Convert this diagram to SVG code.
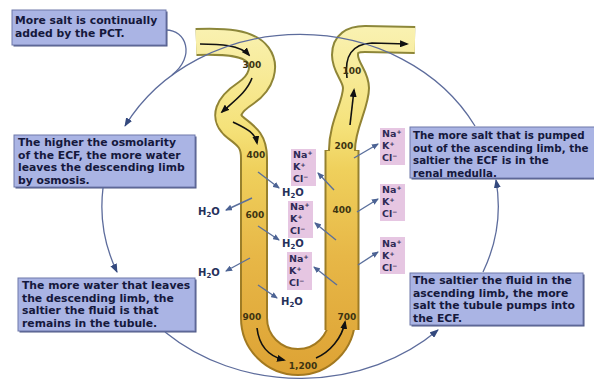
<svg xmlns="http://www.w3.org/2000/svg" width="594" height="380" viewBox="0 0 594 380">
  <defs>
    <linearGradient id="tubeFill" gradientUnits="userSpaceOnUse" x1="0" y1="30" x2="0" y2="378">
      <stop offset="0" stop-color="#f9f1b0"/>
      <stop offset="0.28" stop-color="#f5e27a"/>
      <stop offset="0.4" stop-color="#efd05c"/>
      <stop offset="0.65" stop-color="#e7b747"/>
      <stop offset="1" stop-color="#dda234"/>
    </linearGradient>
    <linearGradient id="tubeWall" gradientUnits="userSpaceOnUse" x1="0" y1="30" x2="0" y2="378">
      <stop offset="0" stop-color="#8c873a"/>
      <stop offset="1" stop-color="#a4781e"/>
    </linearGradient>
    <marker id="cycleHead" markerUnits="userSpaceOnUse" markerWidth="9" markerHeight="7" refX="8" refY="3.5" orient="auto">
      <path d="M0,0 L9,3.5 L0,7 z" fill="#34497e"/>
    </marker>
    <marker id="flowHead" markerUnits="userSpaceOnUse" markerWidth="9" markerHeight="7" refX="7" refY="3.5" orient="auto">
      <path d="M0,0 L9,3.5 L0,7 z" fill="#111"/>
    </marker>
    <marker id="smallHead" markerUnits="userSpaceOnUse" markerWidth="7" markerHeight="6" refX="6" refY="3" orient="auto">
      <path d="M0,0 L7,3 L0,6 z" fill="#4c6394"/>
    </marker>
    <style>
      .box { fill: #aab4e4; stroke: #6e78aa; stroke-width: 1; }
      .shadow { fill: #4c5684; }
      .note { font-family: "DejaVu Sans", "Liberation Sans", sans-serif; font-weight: bold; font-size: 10.8px; fill: #15183c; }
      .edge { font-size: 10.3px; }
      .num { font-family: "DejaVu Sans", "Liberation Sans", sans-serif; font-weight: bold; font-size: 9px; fill: #3d3412; text-anchor: middle; }
      .ionbg { fill: #e6c6e2; }
      .ion { font-family: "DejaVu Sans", "Liberation Sans", sans-serif; font-weight: bold; font-size: 9.5px; fill: #2e2a55; }
      .water { font-family: "DejaVu Sans", "Liberation Sans", sans-serif; font-weight: bold; font-size: 10px; fill: #26305a; }
      .cycle { fill: none; stroke: #5d6c9c; stroke-width: 1.3; }
      .flow { fill: none; stroke: #111; stroke-width: 1.6; }
      .leak { fill: none; stroke: #5a6f9c; stroke-width: 1.4; }
      .wall { fill: none; stroke: url(#tubeWall); stroke-linejoin: round; }
      .lumen { fill: none; stroke: url(#tubeFill); stroke-linejoin: round; }
    </style>
  </defs>

  <rect width="594" height="380" fill="#ffffff"/>

  <!-- Loop of Henle: descending limb, hairpin and ascending limb -->
  <g id="tubule">
    <path class="wall" stroke-width="28" d="M196,42 C225,41 248,42 258,55 C266,66 262,82 246,93 C228,105 222,117 236,128 C248,137 254,142 254,158 L254,318 A44,44 0 0 0 342,318 L342,150 C342,125 356,105 356,88 C356,76 345,68 345,55 C345,44 352,39 365,39 L415,40"/>
    <path class="wall" stroke-width="35" d="M342,330 L342,150"/>
    <path class="lumen" stroke-width="24" d="M196,42 C225,41 248,42 258,55 C266,66 262,82 246,93 C228,105 222,117 236,128 C248,137 254,142 254,158 L254,318 A44,44 0 0 0 342,318 L342,150 C342,125 356,105 356,88 C356,76 345,68 345,55 C345,44 352,39 365,39 L415,40"/>
    <path class="lumen" stroke-width="31" d="M342,330 L342,151"/>
    <!-- flow inside the tubule -->
    <path class="flow" marker-end="url(#flowHead)" d="M200,44 C220,44 240,45 249,55"/>
    <path class="flow" marker-end="url(#flowHead)" d="M252,78 C247,92 234,101 222,112"/>
    <path class="flow" marker-end="url(#flowHead)" d="M233,122 C245,128 255,132 257,143"/>
    <path class="flow" marker-end="url(#flowHead)" d="M257,328 C259,346 268,356 284,360"/>
    <path class="flow" marker-end="url(#flowHead)" d="M316,358 C330,352 342,338 345,322"/>
    <path class="flow" marker-end="url(#flowHead)" d="M350,125 L354,90"/>
    <path class="flow" marker-end="url(#flowHead)" d="M347,78 C344,56 352,44 372,43 L407,44"/>
  </g>

  <!-- Osmolarity values along the loop -->
  <g id="osmolarity">
    <text class="num" x="252" y="68">300</text>
    <text class="num" x="352" y="74">100</text>
    <text class="num" x="256" y="158">400</text>
    <text class="num" x="344" y="149">200</text>
    <text class="num" x="255" y="218">600</text>
    <text class="num" x="342" y="213">400</text>
    <text class="num" x="252" y="320">900</text>
    <text class="num" x="347" y="320">700</text>
    <text class="num" x="303" y="369">1,200</text>
  </g>

  <!-- Water leaving the descending limb -->
  <g id="water">
    <text class="water" x="282" y="196">H<tspan font-size="7" dy="2">2</tspan><tspan dy="-2">O</tspan></text>
    <text class="water" x="198" y="215">H<tspan font-size="7" dy="2">2</tspan><tspan dy="-2">O</tspan></text>
    <text class="water" x="282" y="247">H<tspan font-size="7" dy="2">2</tspan><tspan dy="-2">O</tspan></text>
    <text class="water" x="198" y="276">H<tspan font-size="7" dy="2">2</tspan><tspan dy="-2">O</tspan></text>
    <text class="water" x="281" y="305">H<tspan font-size="7" dy="2">2</tspan><tspan dy="-2">O</tspan></text>
  </g>

  <!-- Ions pumped out of the ascending limb -->
  <g id="ions-center-1">
    <rect class="ionbg" x="291" y="149" width="25" height="37"/>
    <text class="ion" x="293" y="158">Na<tspan font-size="6" dy="-3">+</tspan></text>
    <text class="ion" x="293" y="170">K<tspan font-size="6" dy="-3">+</tspan></text>
    <text class="ion" x="293" y="182">Cl<tspan font-size="6" dy="-3">−</tspan></text>
  </g>
  <g id="ions-center-2">
    <rect class="ionbg" x="288" y="201" width="25" height="37"/>
    <text class="ion" x="290" y="210">Na<tspan font-size="6" dy="-3">+</tspan></text>
    <text class="ion" x="290" y="222">K<tspan font-size="6" dy="-3">+</tspan></text>
    <text class="ion" x="290" y="234">Cl<tspan font-size="6" dy="-3">−</tspan></text>
  </g>
  <g id="ions-center-3">
    <rect class="ionbg" x="287" y="252" width="25" height="38"/>
    <text class="ion" x="289" y="262">Na<tspan font-size="6" dy="-3">+</tspan></text>
    <text class="ion" x="289" y="274">K<tspan font-size="6" dy="-3">+</tspan></text>
    <text class="ion" x="289" y="286">Cl<tspan font-size="6" dy="-3">−</tspan></text>
  </g>
  <g id="ions-right-1">
    <rect class="ionbg" x="380" y="128" width="25" height="37"/>
    <text class="ion" x="382" y="137">Na<tspan font-size="6" dy="-3">+</tspan></text>
    <text class="ion" x="382" y="149">K<tspan font-size="6" dy="-3">+</tspan></text>
    <text class="ion" x="382" y="161">Cl<tspan font-size="6" dy="-3">−</tspan></text>
  </g>
  <g id="ions-right-2">
    <rect class="ionbg" x="380" y="184" width="25" height="37"/>
    <text class="ion" x="382" y="193">Na<tspan font-size="6" dy="-3">+</tspan></text>
    <text class="ion" x="382" y="205">K<tspan font-size="6" dy="-3">+</tspan></text>
    <text class="ion" x="382" y="217">Cl<tspan font-size="6" dy="-3">−</tspan></text>
  </g>
  <g id="ions-right-3">
    <rect class="ionbg" x="380" y="237" width="25" height="37"/>
    <text class="ion" x="382" y="247">Na<tspan font-size="6" dy="-3">+</tspan></text>
    <text class="ion" x="382" y="259">K<tspan font-size="6" dy="-3">+</tspan></text>
    <text class="ion" x="382" y="271">Cl<tspan font-size="6" dy="-3">−</tspan></text>
  </g>

  <!-- Explanatory notes -->
  <g id="note-pct">
    <rect class="shadow" x="13.5" y="11.5" width="154" height="35"/>
    <rect class="box" x="12" y="10" width="154" height="35"/>
    <text class="note" x="15" y="24">More salt is continually</text>
    <text class="note" x="15" y="37">added by the PCT.</text>
  </g>
  <g id="note-osmolarity">
    <rect class="shadow" x="15.5" y="136.5" width="181" height="52"/>
    <rect class="box" x="14" y="135" width="181" height="52"/>
    <text class="note" x="18" y="146">The higher the osmolarity</text>
    <text class="note" x="18" y="158.5">of the ECF, the more water</text>
    <text class="note" x="18" y="171">leaves the descending limb</text>
    <text class="note" x="18" y="183.5">by osmosis.</text>
  </g>
  <g id="note-water">
    <rect class="shadow" x="19.5" y="279.5" width="177" height="53"/>
    <rect class="box" x="18" y="278" width="177" height="53"/>
    <text class="note" x="22" y="289">The more water that leaves</text>
    <text class="note" x="22" y="301.5">the descending limb, the</text>
    <text class="note" x="22" y="314">saltier the fluid is that</text>
    <text class="note" x="22" y="326.5">remains in the tubule.</text>
  </g>
  <g id="note-medulla">
    <rect class="shadow" x="411.5" y="128.5" width="190" height="51"/>
    <rect class="box" x="410" y="127" width="190" height="51"/>
    <text class="note edge" x="413" y="139">The more salt that is pumped</text>
    <text class="note edge" x="413" y="151.5">out of the ascending limb, the</text>
    <text class="note edge" x="413" y="164">saltier the ECF is in the</text>
    <text class="note edge" x="413" y="176.5">renal medulla.</text>
  </g>
  <g id="note-pump">
    <rect class="shadow" x="411.5" y="274.5" width="173" height="52"/>
    <rect class="box" x="410" y="273" width="173" height="52"/>
    <text class="note" x="413" y="284">The saltier the fluid in the</text>
    <text class="note" x="413" y="296.5">ascending limb, the more</text>
    <text class="note" x="413" y="309">salt the tubule pumps into</text>
    <text class="note" x="413" y="321.5">the ECF.</text>
  </g>

  <!-- Connectors -->
  <g id="connectors">
    <path class="cycle" d="M166,30 C186,30 196,56 172,75"/>
    <path class="cycle" marker-end="url(#cycleHead)" d="M475,126 A198,172 0 0 0 125,126"/>
    <path class="cycle" marker-end="url(#cycleHead)" d="M103,188 A198,172 0 0 0 117,272"/>
    <path class="cycle" marker-end="url(#cycleHead)" d="M165,332 A198,172 0 0 0 438,330"/>
    <path class="cycle" marker-end="url(#cycleHead)" d="M483,272 A198,172 0 0 0 496,180"/>
    <path class="leak" marker-end="url(#smallHead)" d="M258,172 L279,188"/>
    <path class="leak" marker-end="url(#smallHead)" d="M252,198 L226,210"/>
    <path class="leak" marker-end="url(#smallHead)" d="M258,226 L279,240"/>
    <path class="leak" marker-end="url(#smallHead)" d="M250,258 L226,271"/>
    <path class="leak" marker-end="url(#smallHead)" d="M258,285 L277,298"/>
    <path class="leak" marker-end="url(#smallHead)" d="M334,190 L318,173"/>
    <path class="leak" marker-end="url(#smallHead)" d="M336,240 L315,223"/>
    <path class="leak" marker-end="url(#smallHead)" d="M337,285 L314,267"/>
    <path class="leak" marker-end="url(#smallHead)" d="M354,158 L378,144"/>
    <path class="leak" marker-end="url(#smallHead)" d="M357,212 L378,199"/>
    <path class="leak" marker-end="url(#smallHead)" d="M358,265 L378,252"/>
  </g>
</svg>
